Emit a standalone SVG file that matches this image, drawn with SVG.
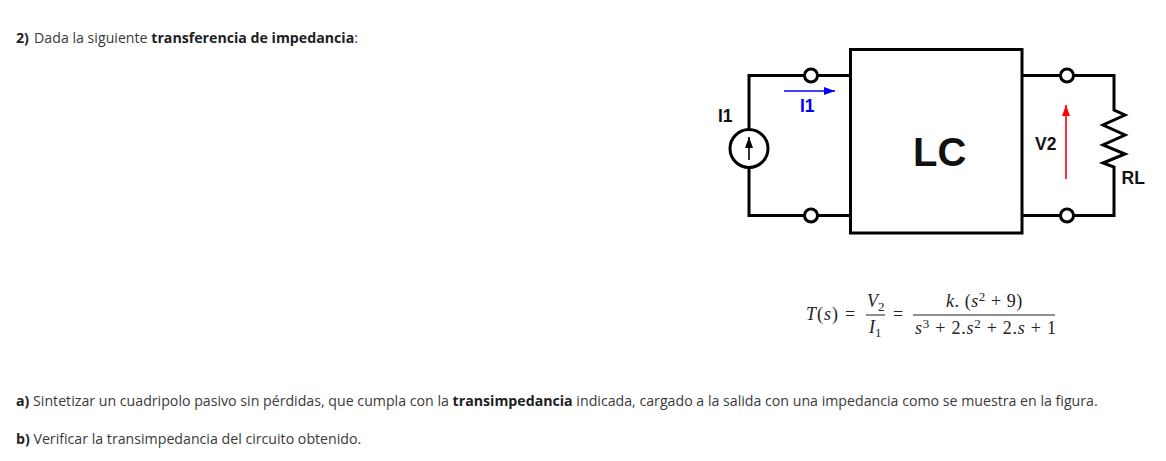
<svg xmlns="http://www.w3.org/2000/svg" width="1166" height="461" viewBox="0 0 1166 461">
<style>
.t{font-family:"Open Sans","Noto Sans",sans-serif;font-size:14.18px;fill:#3a3a3a}
.b{font-weight:700;fill:#1d2125}
.w{fill:none;stroke:#000;stroke-width:3}
.term{fill:#fff;stroke:#000;stroke-width:3}
.l{font-family:"Liberation Sans",Arial,sans-serif;font-weight:700;font-size:17.5px;fill:#111}
.m{font-family:"Liberation Serif","Times New Roman",serif;font-size:18px;fill:#222}
.mi{font-style:italic}
.s{font-size:13px}
</style>
<defs>
<marker id="ab" markerUnits="userSpaceOnUse" markerWidth="12" markerHeight="8" refX="11" refY="4" orient="auto"><path d="M0 0L11 4L0 8Z" fill="#00f"/></marker>
<marker id="ar" markerUnits="userSpaceOnUse" markerWidth="12" markerHeight="8" refX="11" refY="4" orient="auto"><path d="M0 0L11 4L0 8Z" fill="#f00"/></marker>
<marker id="ak" markerUnits="userSpaceOnUse" markerWidth="12" markerHeight="8" refX="11" refY="4" orient="auto"><path d="M0 0L11 4L0 8Z" fill="#000"/></marker>
</defs>
<rect width="1166" height="461" fill="#fff"/>
<text class="t" x="16" y="42.5"><tspan class="b">2)</tspan><tspan dx="1.5"> Dada la siguiente </tspan><tspan class="b">transferencia de impedancia</tspan>:</text>
<g id="connectors">
<path class="w" d="M811 75.5H749V129M749 167V215.5H811M811 215.5H850M811 75.5H850"/>
<path class="w" d="M1022 75.5H1114V110L1125 115L1103 125L1125 135L1103 145L1125 154L1103 163L1114 167V215.5H1022"/>
<path d="M784 91H835" fill="none" stroke="#00f" stroke-width="1.6" marker-end="url(#ab)"/>
<path d="M1066 179V105" fill="none" stroke="#f00" stroke-width="1.6" marker-end="url(#ar)"/>
</g>
<g id="source-I1">
<circle class="term" cx="749" cy="148.5" r="19"/>
<path d="M749 160V137" fill="none" stroke="#000" stroke-width="1.6" marker-end="url(#ak)"/>
<text class="l" x="718" y="122">I1</text>
</g>
<g id="port-in-top"><circle class="term" cx="811" cy="75.5" r="6.5"/></g>
<g id="port-in-bottom"><circle class="term" cx="811" cy="215.5" r="6.5"/></g>
<g id="label-I1"><text class="l" x="800" y="112" style="fill:#00f">I1</text></g>
<g id="box-LC">
<rect x="850.5" y="49.5" width="171.5" height="183.5" fill="#fff" stroke="#000" stroke-width="3"/>
<text x="913" y="166" font-family="Liberation Sans,Arial,sans-serif" font-weight="700" font-size="40" fill="#111">LC</text>
</g>
<g id="port-out-top"><circle class="term" cx="1067" cy="75.5" r="6.5"/></g>
<g id="port-out-bottom"><circle class="term" cx="1067" cy="215.5" r="6.5"/></g>
<g id="label-V2"><text class="l" x="1035" y="150">V2</text></g>
<g id="label-RL"><text class="l" x="1121.5" y="183.5">RL</text></g>
<g id="formula">
<text class="m" x="806" y="320" letter-spacing="1"><tspan class="mi">T</tspan>(<tspan class="mi">s</tspan>)</text>
<text class="m" x="845" y="320">=</text>
<text class="m" x="867" y="307"><tspan class="mi">V</tspan><tspan class="s" dy="4">2</tspan></text>
<path d="M866 315H885M913 315H1055" stroke="#222" stroke-width="1" fill="none"/>
<text class="m" x="869" y="333"><tspan class="mi">I</tspan><tspan class="s" dy="4">1</tspan></text>
<text class="m" x="893" y="320">=</text>
<text class="m" x="946" y="307" letter-spacing="0.55"><tspan class="mi">k</tspan>. (<tspan class="mi">s</tspan><tspan class="s" dy="-6">2</tspan><tspan dy="6"> + 9)</tspan></text>
<text class="m" x="915" y="334" letter-spacing="0.75"><tspan class="mi">s</tspan><tspan class="s" dy="-6">3</tspan><tspan dy="6"> + 2.</tspan><tspan class="mi">s</tspan><tspan class="s" dy="-6">2</tspan><tspan dy="6"> + 2.</tspan><tspan class="mi">s</tspan> + 1</text>
</g>
<text class="t" x="16" y="405.5"><tspan class="b">a)</tspan> Sintetizar un cuadripolo pasivo sin pérdidas, que cumpla con la <tspan class="b">transimpedancia</tspan> indicada, cargado a la salida con una impedancia como se muestra en la figura.</text>
<text class="t" x="16" y="444"><tspan class="b">b)</tspan> Verificar la transimpedancia del circuito obtenido.</text>
</svg>
